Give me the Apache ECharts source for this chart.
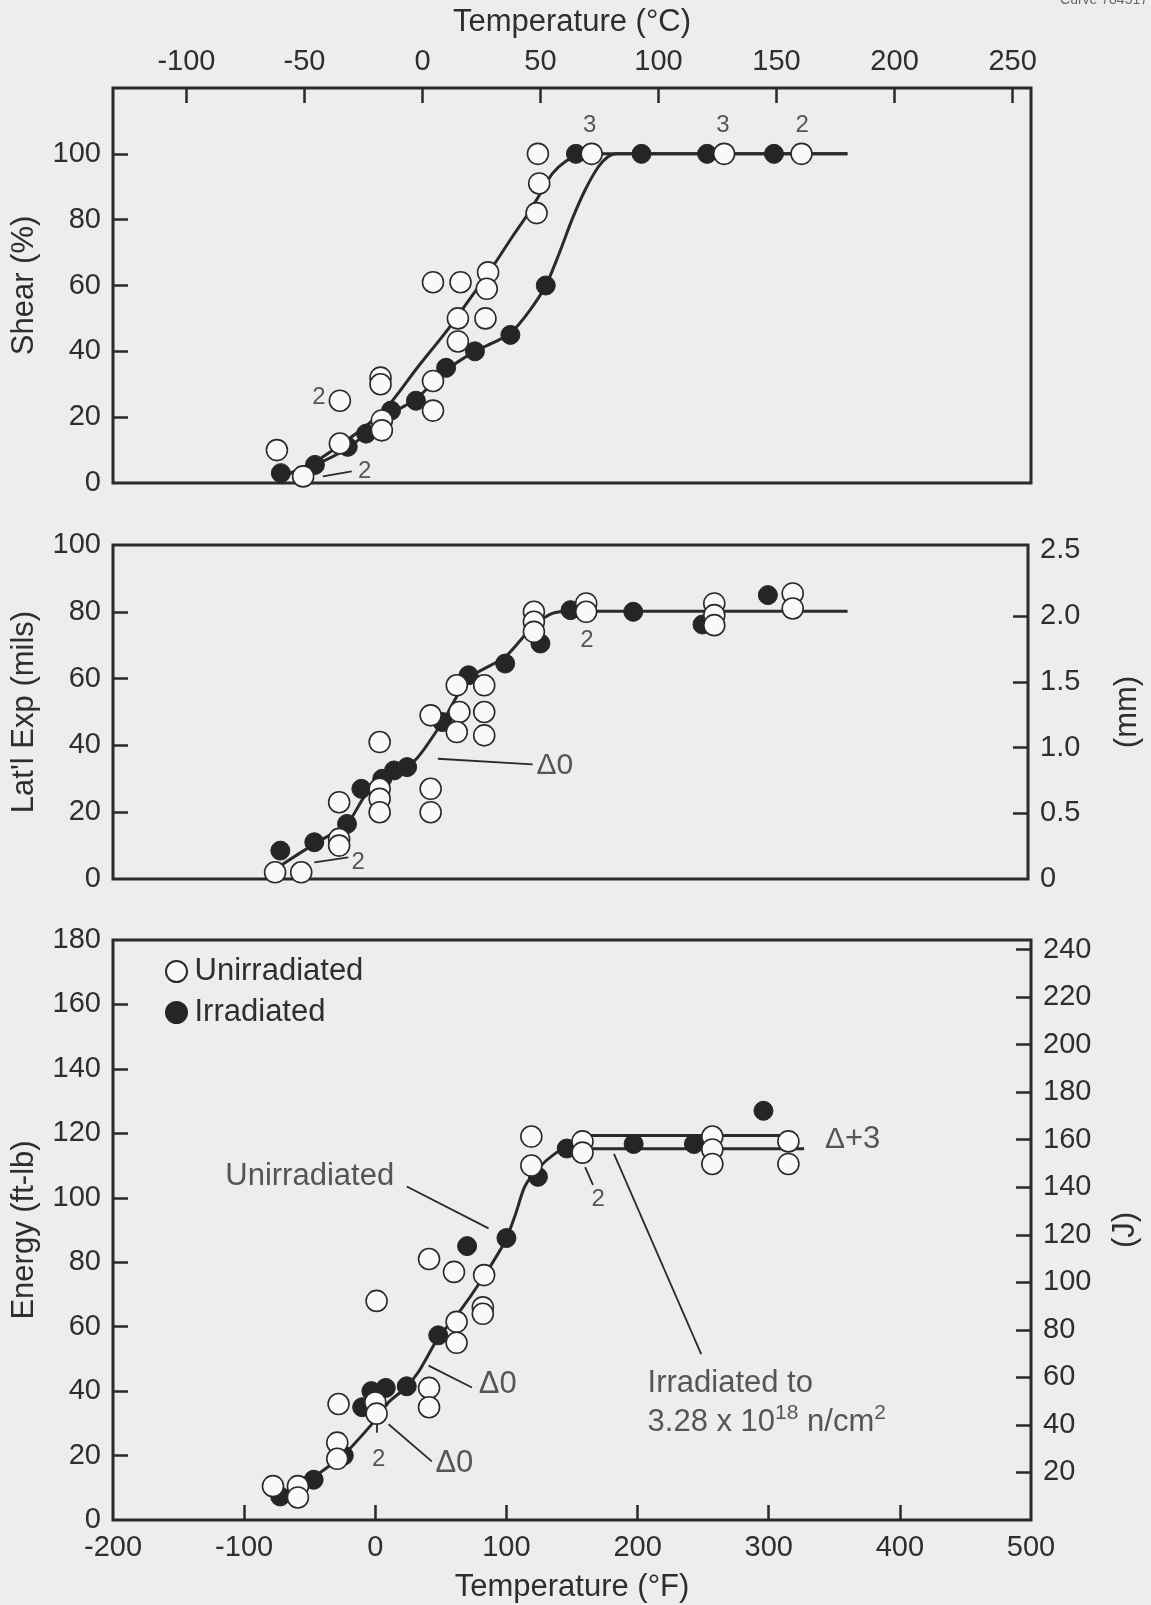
<!DOCTYPE html>
<html lang="en">
<head>
<meta charset="UTF-8">
<title>Charpy impact curves</title>
<script src="https://cdn.jsdelivr.net/npm/echarts@6/dist/echarts.min.js"></script>
<style>
html, body { margin: 0; padding: 0; background: #ededeb; }
#main { width: 1151px; height: 1605px; }
</style>
</head>
<body>
<div id="main"></div>
<script type="text/javascript">
// temperature axes
var fLabels = [-200, -100, 0, 100, 200, 300, 400, 500];
var fTicks = [-100, 0, 100, 200, 300, 400];
var cLabels = [-100, -50, 0, 50, 100, 150, 200, 250];

// shear (%) vs temperature (F)
var shearOpen = [[-75, 10], [-55, 2], [-27, 12], [-27, 25], [4, 32], [4, 30], [5, 19], [5, 16],
    [44, 61], [44, 31], [44, 22], [65, 61], [63, 50], [63, 43], [86, 64], [85, 59], [84, 50],
    [124, 100], [125, 91], [123, 82], [165, 100], [266, 100], [325, 100]];
var shearFilled = [[-72, 3], [-46, 5.5], [-21, 11], [-7, 15], [12, 22], [31, 25], [54, 35], [76, 40],
    [103, 45], [130, 60], [153, 100], [203, 100], [253, 100], [304, 100]];
var shearUnirrCurve = [[-72, 2], [-50, 5.5], [-27, 11.5], [-5, 18], [11, 24], [32, 35], [56, 47], [74, 57],
    [90, 66], [104, 74.5], [116, 81.5], [126, 88], [135, 94], [145, 97.7], [155, 99.4], [165, 100], [360, 100]];
var shearIrrCurve = [[-72, 2], [-46, 5.5], [-21, 10.6], [12, 21], [31, 25.5], [55, 34.5], [76, 40],
    [92, 43], [103, 45.5], [117, 52], [130, 60], [140, 69.5], [150, 80], [160, 89], [170, 96], [178, 99.3], [185, 100], [360, 100]];
var shearCounts = [[163.5, 108.5, '3'], [265, 108.5, '3'], [325.6, 108.5, '2'], [-43, 26, '2'], [-8, 3.5, '2']];
var shearLeaders = [[[-40, 2], [-18, 3.5]]];

// lateral expansion (mils) vs temperature (F)
var milsOpen = [[-76, 2], [-56, 2], [-27, 23], [-27, 12], [-27, 10], [4, 41], [4, 27], [4, 24], [4, 20],
    [43, 49], [43, 27], [43, 20], [63, 58], [65, 50], [63, 44], [84, 58], [84, 50], [84, 43],
    [122, 80], [122, 77], [122, 74], [162, 82.5], [162, 80], [260, 82.5], [260, 79], [260, 76], [320, 85.5], [320, 81]];
var milsFilled = [[-72, 8.5], [-46, 11], [-21, 16.5], [-10, 27], [6, 30], [15, 32.5], [25, 33.5], [52, 47],
    [72, 61], [100, 64.5], [127, 70.5], [150, 80.5], [198, 80], [251, 76.2], [301, 85]];
var milsCurve = [[-72, 4], [-46, 10.5], [-21, 16.5], [-7, 25], [11, 31], [31, 35.5], [52, 47], [72, 60],
    [100, 66.5], [122, 76], [136, 79.5], [150, 80.2], [362, 80.2]];
var milsCounts = [[-12.5, 5, '2'], [162.5, 71.5, '2']];
var milsMarks = [[138, 34, 'Δ0']];
var milsLeaders = [[[-46, 5], [-20, 6.5]], [[48.5, 36], [121, 34.3]]];

// energy (ft-lb) vs temperature (F)
var energyOpen = [[-78, 10.5], [-59, 10.5], [-59, 7], [-28, 36], [-29, 24], [-29, 19], [1, 68], [0, 36.5], [1, 33],
    [41, 81], [41, 41], [41, 35], [60, 77], [62, 61.5], [62, 55], [83, 76], [82, 66], [82, 64],
    [119, 119], [119, 110], [158, 117.5], [158, 114], [257, 119], [257, 115], [257, 110.5], [315, 117.5], [315, 110.5]];
var energyFilled = [[-72.5, 7.3], [-47, 12.5], [-24, 20], [-10, 35], [-3, 40], [8, 41], [24, 41.5], [48, 57.3],
    [70, 85], [100, 87.5], [124, 106.5], [146, 115.3], [197, 116.7], [243, 116.7], [296, 127]];
var energyCurve = [[-75, 7.5], [-58, 9.5], [-46, 13.5], [-24, 20.3], [0, 31], [10, 36.5], [23, 41], [33, 46],
    [48, 56.5], [63, 64], [81, 74.5], [99, 86.5], [107, 95], [114, 103.5], [124, 109], [137, 113.7], [150, 116.4], [158, 117.5]];
var energyUpper = [[158, 117.5], [164, 119.3], [322, 119.3]];
var energyLower = [[158, 117.5], [164, 115.2], [327, 115.2]];
var energyCounts = [[2.5, 18.8, '2'], [170, 99.5, '2']];
var energyMarks = [[-50, 106.6, 'Unirradiated'], [93.4, 42.2, 'Δ0'], [60.3, 17.7, 'Δ0'], [364, 118, '{d|Δ}+3']];
var fluenceNote = [[207.6, 36.3, 'Irradiated to\n3.28 x 10{sup|18} n/cm{sup|2}']];
var energyLeaders = [[[24, 103.5], [86.4, 90.5]], [[40.6, 47.9], [73.7, 41.1]], [[10.1, 29.7], [43.1, 18.2]],
    [[1.2, 34.4], [1.2, 27.1]], [[160, 109.5], [166, 104]], [[248.5, 51.5], [182, 113.6]]];

var FONT = 'Liberation Sans, Arial, Helvetica, sans-serif';
var INK = '#2a2a2a';
var TXT = '#2e2e2e';
var RICH = {
    sup: {fontSize: 21, lineHeight: 21, fontFamily: FONT, color: TXT, verticalAlign: 'top'},
    d: {fontSize: 30, fontFamily: FONT, color: TXT}
};

var myChart = echarts.init(document.getElementById('main'));

function openDots(data, xi, yi) {
    return {type: 'scatter', name: 'Unirradiated', xAxisIndex: xi, yAxisIndex: yi, data: data,
        symbolSize: 21, itemStyle: {color: '#f9f9f7', borderColor: INK, borderWidth: 1.6, opacity: 1}, z: 5};
}
function filledDots(data, xi, yi) {
    return {type: 'scatter', name: 'Irradiated', xAxisIndex: xi, yAxisIndex: yi, data: data,
        symbolSize: 19, itemStyle: {color: '#252525', borderColor: '#252525', borderWidth: 1, opacity: 1}, z: 4};
}
function curve(data, xi, yi) {
    return {type: 'line', xAxisIndex: xi, yAxisIndex: yi, data: data, smooth: 0.25, symbol: 'none',
        lineStyle: {color: INK, width: 3}, z: 3, silent: true};
}
function notes(data, xi, yi, size, align) {
    return {type: 'scatter', xAxisIndex: xi, yAxisIndex: yi, symbolSize: 0, silent: true, z: 6,
        data: data.map(function (d) { return {name: d[2], value: [d[0], d[1]]}; }),
        label: {show: true, position: 'inside', formatter: '{b}', color: TXT, fontSize: size, fontFamily: FONT,
            align: align || 'center', verticalAlign: 'middle', lineHeight: Math.round(size * 1.25), rich: RICH}};
}
function leaders(data, xi, yi) {
    return {type: 'lines', coordinateSystem: 'cartesian2d', xAxisIndex: xi, yAxisIndex: yi, silent: true, z: 3,
        data: data.map(function (c) { return {coords: c}; }),
        lineStyle: {color: INK, width: 1.8, opacity: 1, curveness: 0}};
}

var labelStyle = {color: TXT, fontSize: 29, fontFamily: FONT};
var nameStyle = {color: TXT, fontSize: 31, fontFamily: FONT};
var tickStyle = {color: INK, width: 2.5};

function hiddenX(grid) {
    return {gridIndex: grid, type: 'value', min: -200, max: 500, axisLine: {show: false, onZero: false},
        axisTick: {show: false}, axisLabel: {show: false}, splitLine: {show: false}};
}
function yAxis(grid, min, max, labels, ticks, name, gap, right, fmt) {
    return {gridIndex: grid, type: 'value', min: min, max: max, position: right ? 'right' : 'left',
        name: name, nameLocation: 'middle', nameGap: gap, nameRotate: 90, nameTextStyle: nameStyle,
        axisLine: {show: false, onZero: false}, splitLine: {show: false},
        axisTick: {show: true, inside: true, length: 15, lineStyle: tickStyle, customValues: ticks},
        axisLabel: Object.assign({margin: 12, customValues: labels, showMinLabel: true, showMaxLabel: true,
            formatter: fmt || function (v) { return String(v); }}, labelStyle)};
}

var option = {
    backgroundColor: '#ededeb',
    animation: false,
    grid: [
        {left: 113, right: 120, top: 88, height: 395, show: true, borderColor: INK, borderWidth: 3, backgroundColor: 'transparent'},
        {left: 113, right: 120, top: 545, height: 334, show: true, borderColor: INK, borderWidth: 3, backgroundColor: 'transparent'},
        {left: 113, right: 120, top: 940, height: 580, show: true, borderColor: INK, borderWidth: 3, backgroundColor: 'transparent'}
    ],
    legend: {
        data: ['Unirradiated', 'Irradiated'], orient: 'vertical', left: 160, top: 951,
        itemWidth: 26, itemHeight: 21, itemGap: 10, selectedMode: false,
        textStyle: {color: TXT, fontSize: 31, fontFamily: FONT}
    },
    graphic: [
        {type: 'text', right: 3, top: -7, style: {text: 'Curve 784517', fontSize: 14, fill: '#666', fontFamily: FONT}}
    ],
    xAxis: [
        hiddenX(0),
        {gridIndex: 0, type: 'value', position: 'top', min: -131.1, max: 257.8,
            name: 'Temperature (°C)', nameLocation: 'middle', nameGap: 50, nameTextStyle: nameStyle,
            axisLine: {show: false, onZero: false}, splitLine: {show: false},
            axisTick: {show: true, inside: true, length: 15, lineStyle: tickStyle, customValues: cLabels},
            axisLabel: Object.assign({margin: 12, customValues: cLabels, showMinLabel: true, showMaxLabel: true}, labelStyle)},
        hiddenX(1),
        {gridIndex: 2, type: 'value', min: -200, max: 500,
            name: 'Temperature (°F)', nameLocation: 'middle', nameGap: 52, nameTextStyle: nameStyle,
            axisLine: {show: false, onZero: false}, splitLine: {show: false},
            axisTick: {show: true, inside: true, length: 15, lineStyle: tickStyle, customValues: fTicks},
            axisLabel: Object.assign({margin: 13, customValues: fLabels, showMinLabel: true, showMaxLabel: true}, labelStyle)}
    ],
    yAxis: [
        yAxis(0, 0, 120, [0, 20, 40, 60, 80, 100], [20, 40, 60, 80, 100], 'Shear (%)', 73),
        yAxis(1, 0, 100, [0, 20, 40, 60, 80, 100], [20, 40, 60, 80], "Lat'l Exp (mils)", 73),
        yAxis(1, 0, 2.54, [0, 0.5, 1, 1.5, 2, 2.5], [0.5, 1, 1.5, 2], '(mm)', 84, true,
            function (v) { return v === 0 ? '0' : v.toFixed(1); }),
        yAxis(2, 0, 180, [0, 20, 40, 60, 80, 100, 120, 140, 160, 180], [20, 40, 60, 80, 100, 120, 140, 160], 'Energy (ft-lb)', 73),
        yAxis(2, 0, 180 * 1.35582, [20, 40, 60, 80, 100, 120, 140, 160, 180, 200, 220, 240],
            [20, 40, 60, 80, 100, 120, 140, 160, 180, 200, 220, 240], '(J)', 79, true)
    ],
    series: [
        // shear
        curve(shearUnirrCurve, 0, 0),
        curve(shearIrrCurve, 0, 0),
        filledDots(shearFilled, 0, 0),
        openDots(shearOpen, 0, 0),
        notes(shearCounts, 0, 0, 24),
        leaders(shearLeaders, 0, 0),
        // lateral expansion
        curve(milsCurve, 2, 1),
        filledDots(milsFilled, 2, 1),
        openDots(milsOpen, 2, 1),
        notes(milsCounts, 2, 1, 24),
        notes(milsMarks, 2, 1, 30),
        leaders(milsLeaders, 2, 1),
        // energy
        curve(energyCurve, 3, 3),
        curve(energyUpper, 3, 3),
        curve(energyLower, 3, 3),
        filledDots(energyFilled, 3, 3),
        openDots(energyOpen, 3, 3),
        notes(energyCounts, 3, 3, 24),
        notes(energyMarks, 3, 3, 31),
        notes(fluenceNote, 3, 3, 31, 'left'),
        leaders(energyLeaders, 3, 3)
    ]
};

myChart.setOption(option);
</script>
</body>
</html>
